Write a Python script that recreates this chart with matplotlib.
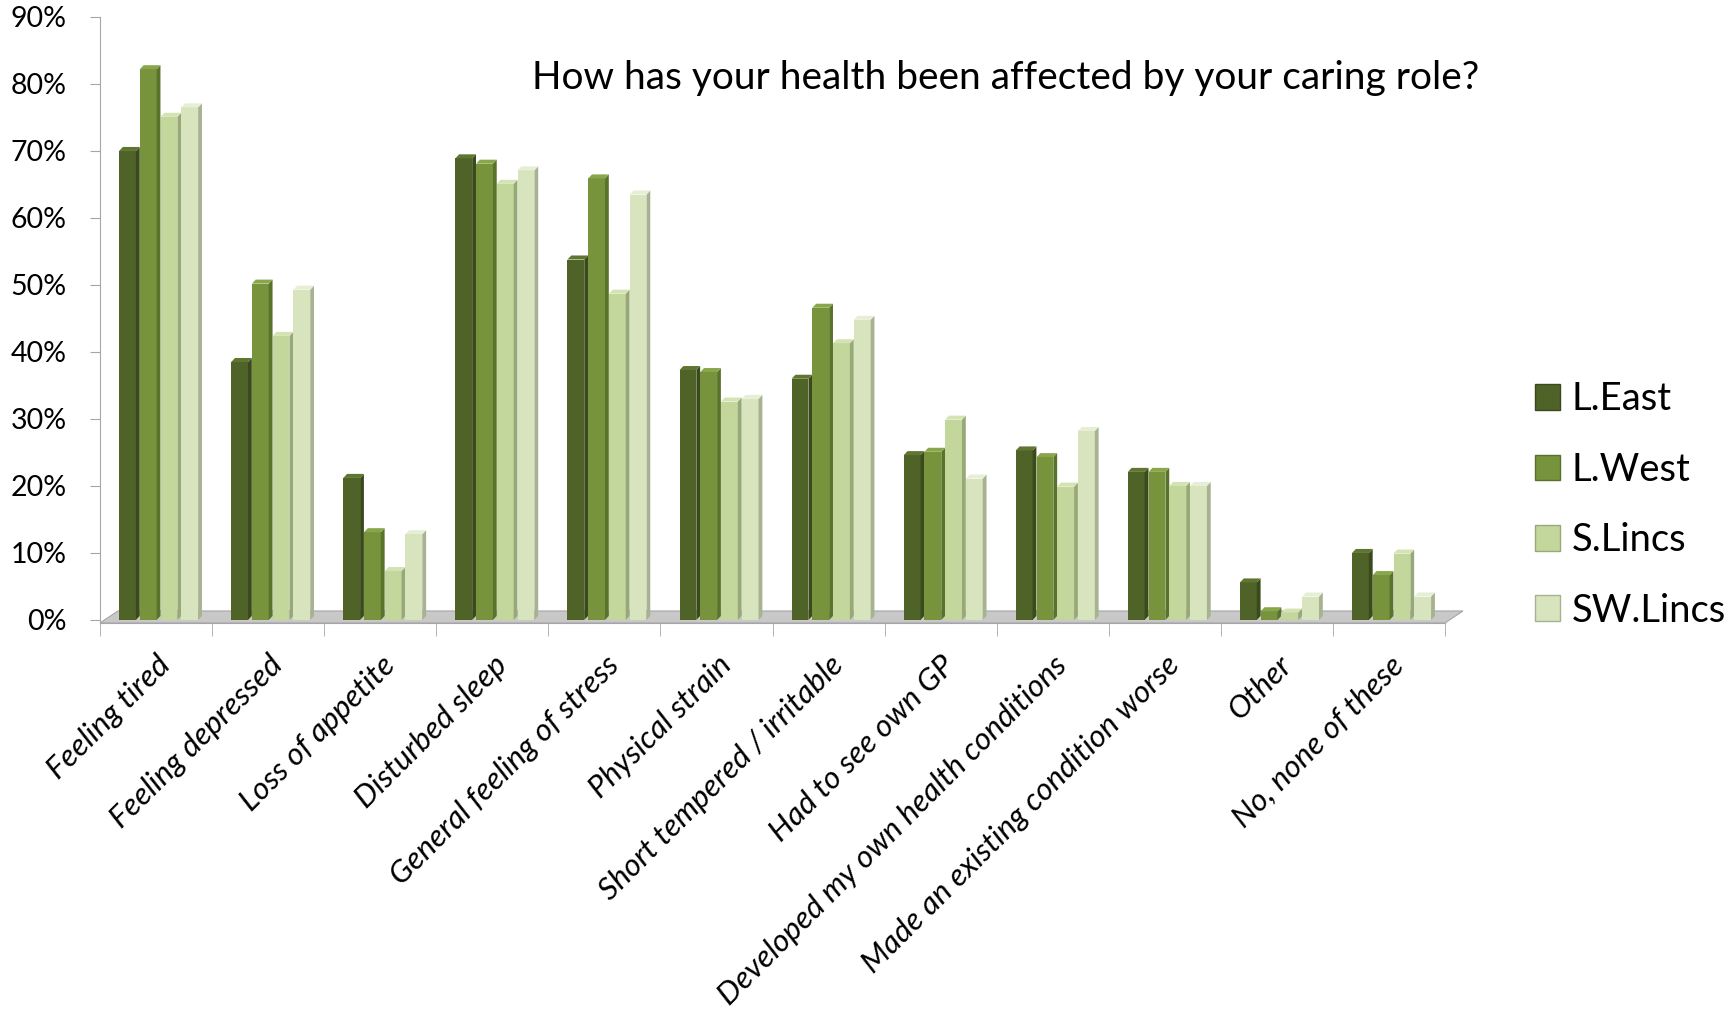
import matplotlib
matplotlib.use("Agg")
import matplotlib.pyplot as plt
from matplotlib.patches import Patch, Polygon
from matplotlib.ticker import FuncFormatter, MultipleLocator
import numpy as np

categories = [
    "Feeling tired", "Feeling depressed", "Loss of appetite", "Disturbed sleep",
    "General feeling of stress", "Physical strain", "Short tempered / irritable",
    "Had to see own GP", "Developed my own health conditions",
    "Made an existing condition worse", "Other", "No, none of these",
]
areas = ["L.East", "L.West", "S.Lincs", "SW.Lincs"]

l_east = [0.70, 0.385, 0.212, 0.689, 0.538, 0.373, 0.360, 0.246, 0.253, 0.221, 0.056, 0.100]
l_west = [0.822, 0.502, 0.131, 0.681, 0.659, 0.370, 0.466, 0.251, 0.243, 0.221, 0.013, 0.067]
s_lincs = [0.751, 0.424, 0.073, 0.651, 0.487, 0.326, 0.413, 0.299, 0.199, 0.200, 0.011, 0.099]
sw_lincs = [0.765, 0.493, 0.128, 0.671, 0.635, 0.330, 0.448, 0.211, 0.282, 0.200, 0.035, 0.035]

# front / side / top shades per series
front = ["#4F6228", "#77933C", "#C3D69B", "#D7E4BD"]
side = ["#3A4A1C", "#5A722B", "#98A978", "#A7B292"]
top = ["#5F7631", "#88A64A", "#D4E3B2", "#E6EED6"]

series = [l_east, l_west, s_lincs, sw_lincs]

fig = plt.figure(figsize=(17.33, 10.10), dpi=100)
ax = fig.add_axes([0.0577, 0.3832, 0.7923, 0.600])

x = np.arange(len(categories))
w = 0.15       # front face width
dx = 0.034     # depth offset (x)
dy = 0.006     # depth offset (y)
step = 0.185

for k, vals in enumerate(series):
    xs = x + (k - 1.5) * step - w / 2 - dx / 2 + 0.04
    ax.bar(xs, vals, width=w, align="edge", color=front[k], edgecolor="none", zorder=3)
    for x0, h in zip(xs, vals):
        ax.add_patch(Polygon([(x0 + w, 0), (x0 + w + dx, dy), (x0 + w + dx, h + dy), (x0 + w, h)],
                             closed=True, facecolor=side[k], edgecolor="none", zorder=3))
        ax.add_patch(Polygon([(x0, h), (x0 + w, h), (x0 + w + dx, h + dy), (x0 + dx, h + dy)],
                             closed=True, facecolor=top[k], edgecolor="none", zorder=3))

# grey floor under the columns
n = len(categories)
fx0, fx1 = -0.5, n - 0.5
f_front, f_back = -0.0045, 0.0134
ax.add_patch(Polygon([(fx0, f_front), (fx1, f_front), (fx1 + 0.16, f_back), (fx0 + 0.16, f_back)],
                     closed=True, facecolor="#C8C8C8", edgecolor="#A6A6A6", lw=0.8, zorder=1))

ax.set_xlim(-0.5, n - 0.5 + 0.25)
ax.set_ylim(f_front, 0.9)

for s in ["top", "right"]:
    ax.spines[s].set_visible(False)
ax.spines["left"].set_color("#A6A6A6")
ax.spines["bottom"].set_color("#A6A6A6")
ax.spines["bottom"].set_bounds(fx0, fx1)

ax.yaxis.set_major_locator(MultipleLocator(0.1))
ax.yaxis.set_major_formatter(FuncFormatter(lambda v, p: f"{v * 100:.0f}%"))
ax.tick_params(axis="y", length=7, color="#A6A6A6", labelsize=20.5, pad=17)
for lbl in ax.get_yticklabels():
    lbl.set_family("Lato")

ax.set_xticks(x)
ax.set_xticks(np.arange(-0.5, n), minor=True)
ax.set_xticklabels(categories, rotation=45, ha="right", rotation_mode="anchor",
                   fontsize=22.5, fontstyle="italic", family="Lato")
ax.tick_params(axis="x", which="major", length=0, pad=20)
ax.tick_params(axis="x", which="minor", length=9, color="#A6A6A6")

fig.text(0.58, 0.923, "How has your health been affected by your caring role?",
         ha="center", va="center", fontsize=28, family="Lato")

handles = [Patch(facecolor=front[k], edgecolor=side[k]) for k in range(4)]
fig.legend(handles, areas, loc="center left", bbox_to_anchor=(0.866, 0.5),
           frameon=False, prop={"family": "Lato", "size": 27.5},
           handlelength=0.65, handleheight=0.65, handletextpad=0.3, labelspacing=0.9)

fig.savefig("out.png", dpi=100)
